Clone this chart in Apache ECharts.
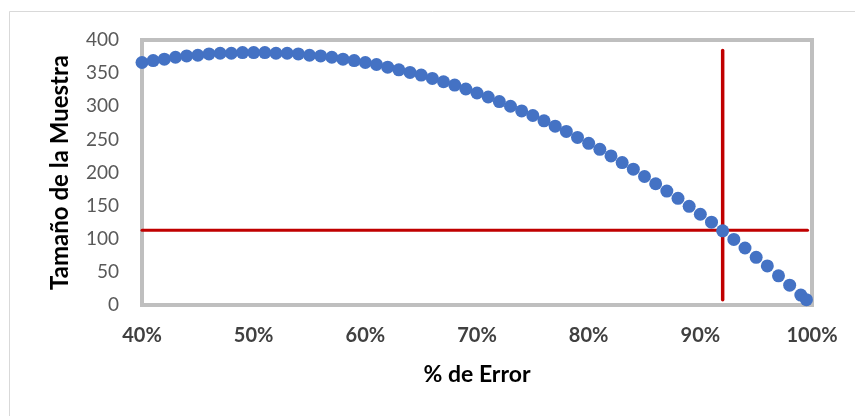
<!DOCTYPE html>
<html>
<head>
<meta charset="utf-8">
<script src="https://cdn.jsdelivr.net/npm/echarts@6/dist/echarts.min.js"></script>
<style>
html,body{margin:0;padding:0;background:#fff;}
#chart{width:855px;height:416px;}
</style>
</head>
<body>
<div id="chart"></div>
<script>
// % de Error (x) values
const errorPct = [0.40,0.41,0.42,0.43,0.44,0.45,0.46,0.47,0.48,0.49,
  0.50,0.51,0.52,0.53,0.54,0.55,0.56,0.57,0.58,0.59,
  0.60,0.61,0.62,0.63,0.64,0.65,0.66,0.67,0.68,0.69,
  0.70,0.71,0.72,0.73,0.74,0.75,0.76,0.77,0.78,0.79,
  0.80,0.81,0.82,0.83,0.84,0.85,0.86,0.87,0.88,0.89,
  0.90,0.91,0.92,0.93,0.94,0.95,0.96,0.97,0.98,0.99,0.995];
// Tamaño de la Muestra (y) values
const sampleSize = [366,369,371,374,376,377,379,380,380,381,
  381,381,380,380,379,377,376,374,371,369,
  366,363,359,355,351,347,342,337,332,326,
  320,314,307,300,293,286,278,270,262,253,
  244,235,225,215,205,194,183,172,161,149,
  137,125,112,99,86,72,59,44,30,15,8];
// reference lines
const hLineX = [0.40, 0.996];
const hLineY = [113, 113];
const vLineX = [0.92, 0.92];
const vLineY = [8, 384];
const yTicks = {min:0, max:400, interval:50};
const xTicks = {min:0.4, max:1.0, interval:0.1};

const FONT = 'Lato';
const chart = echarts.init(document.getElementById('chart'), null, {renderer:'canvas'});
chart.setOption({
  backgroundColor:'#ffffff',
  animation:false,
  graphic:[{
    type:'rect', shape:{x:9.5, y:11.5, width:900, height:500},
    style:{fill:'none', stroke:'#d9d9d9', lineWidth:1}, silent:true
  }],
  grid:{left:142, right:43, top:40, bottom:111, show:true,
        borderColor:'#bfbfbf', borderWidth:4, backgroundColor:'transparent'},
  xAxis:{
    type:'value', min:xTicks.min, max:xTicks.max, interval:xTicks.interval,
    name:'% de Error', nameLocation:'middle', nameGap:58,
    nameTextStyle:{fontFamily:FONT, fontSize:23, fontWeight:'bold', color:'#000'},
    axisLine:{show:false}, axisTick:{show:false}, splitLine:{show:false},
    axisLabel:{fontFamily:FONT, fontSize:20, fontWeight:'bold', color:'#404040', margin:21,
      formatter:v=>Math.round(v*100)+'%'}
  },
  yAxis:{
    type:'value', min:yTicks.min, max:yTicks.max, interval:yTicks.interval,
    name:'Tamaño de la Muestra', nameLocation:'middle', nameGap:70,
    nameTextStyle:{fontFamily:FONT, fontSize:24, fontWeight:'bold', color:'#000'},
    axisLine:{show:false}, axisTick:{show:false}, splitLine:{show:false},
    axisLabel:{fontFamily:FONT, fontSize:19, color:'#595959', margin:23}
  },
  series:[
    {type:'line', data:hLineX.map((x,i)=>[x,hLineY[i]]), symbol:'none', z:2,
     lineStyle:{color:'#c00000', width:3, cap:'round'}},
    {type:'line', data:vLineX.map((x,i)=>[x,vLineY[i]]), symbol:'none', z:2,
     lineStyle:{color:'#c00000', width:3.5, cap:'round'}},
    {type:'scatter', data:errorPct.map((x,i)=>[x,sampleSize[i]]), symbol:'circle', symbolSize:13, z:5,
     itemStyle:{color:'#4472c4', opacity:1}}
  ]
});
</script>
</body>
</html>
